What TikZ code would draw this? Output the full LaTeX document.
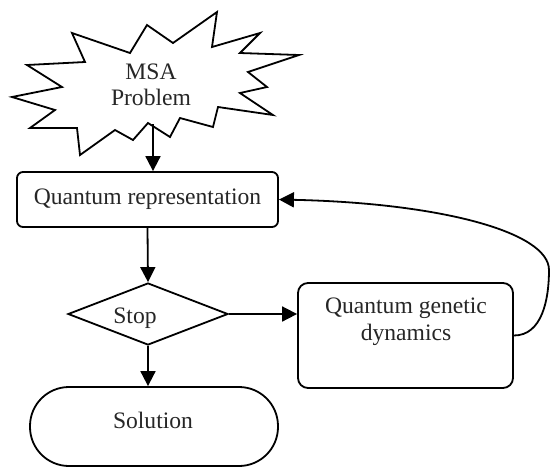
\documentclass[tikz,border=0pt]{standalone}
\usepackage{fontspec}
\setmainfont{Liberation Serif}
\usetikzlibrary{arrows.meta,shapes.geometric}
\begin{document}
\begin{tikzpicture}[x=0.5pt,y=-0.5pt, line width=0.9pt,
  font=\fontsize{11.8}{13}\selectfont,
  txt/.style={text=black!85, inner sep=0pt},
  box/.style={draw, rectangle, inner sep=0pt},
  arr/.style={-{Triangle[length=7.5pt,width=7.5pt]}}]
\useasboundingbox (0,0) rectangle (553,468);
% star
\draw[line join=miter] (217,12) -- (212,47) -- (260,33) -- (240,53) -- (299,55) -- (248,72)
  -- (267,87) -- (240,93) -- (273,115) -- (218,107) -- (213,127) -- (180,118)
  -- (170,137) -- (148,123) -- (133,140) -- (115,130) -- (80,155) -- (77,128)
  -- (30,128) -- (55,110) -- (12,97) -- (62,87) -- (27,65) -- (85,62)
  -- (72,33) -- (130,53) -- (147,25) -- (173,43) -- cycle;
\node[txt, align=center] (msa) at (151,85) {MSA\\Problem};
\coordinate (starbot) at (153,124);
% boxes
\node[box, rounded corners=3pt, minimum width=130.5pt, minimum height=27.5pt, text=black!85] (qr) at (147.5,199.5) {Quantum representation};
\node[draw, diamond, minimum width=80pt, minimum height=31pt, inner sep=0pt] (stop) at (148,314) {};
\node[txt] (stopt) at (135,318) {Stop};
\node[box, rounded corners=5pt, minimum width=107.5pt, minimum height=52.5pt] (qgd) at (405.5,335.5) {};
\node[txt, align=center, font=\fontsize{11.8}{13.5}\selectfont] (qgdt) at (406,321.5) {Quantum genetic\\dynamics};
\node[box, rounded corners=19.5pt, minimum width=124pt, minimum height=39.5pt] (sol) at (154,426.5) {};
\node[txt] (solt) at (153,420) {Solution};
% connectors
\draw[arr] (starbot) -- (starbot |- qr.north);
\draw[arr] (qr.south) -- (stop.north);
\draw[arr] (stop.east) -- (stop.east -| qgd.west);
\draw[arr] (stop.south) -- (stop.south |- sol.north);
\draw[arr] (qgd.east) .. controls +(28,0) and (549,300) .. (549,270)
  .. controls (549,232) and (440,203) .. (qr.east);
\end{tikzpicture}
\end{document}
